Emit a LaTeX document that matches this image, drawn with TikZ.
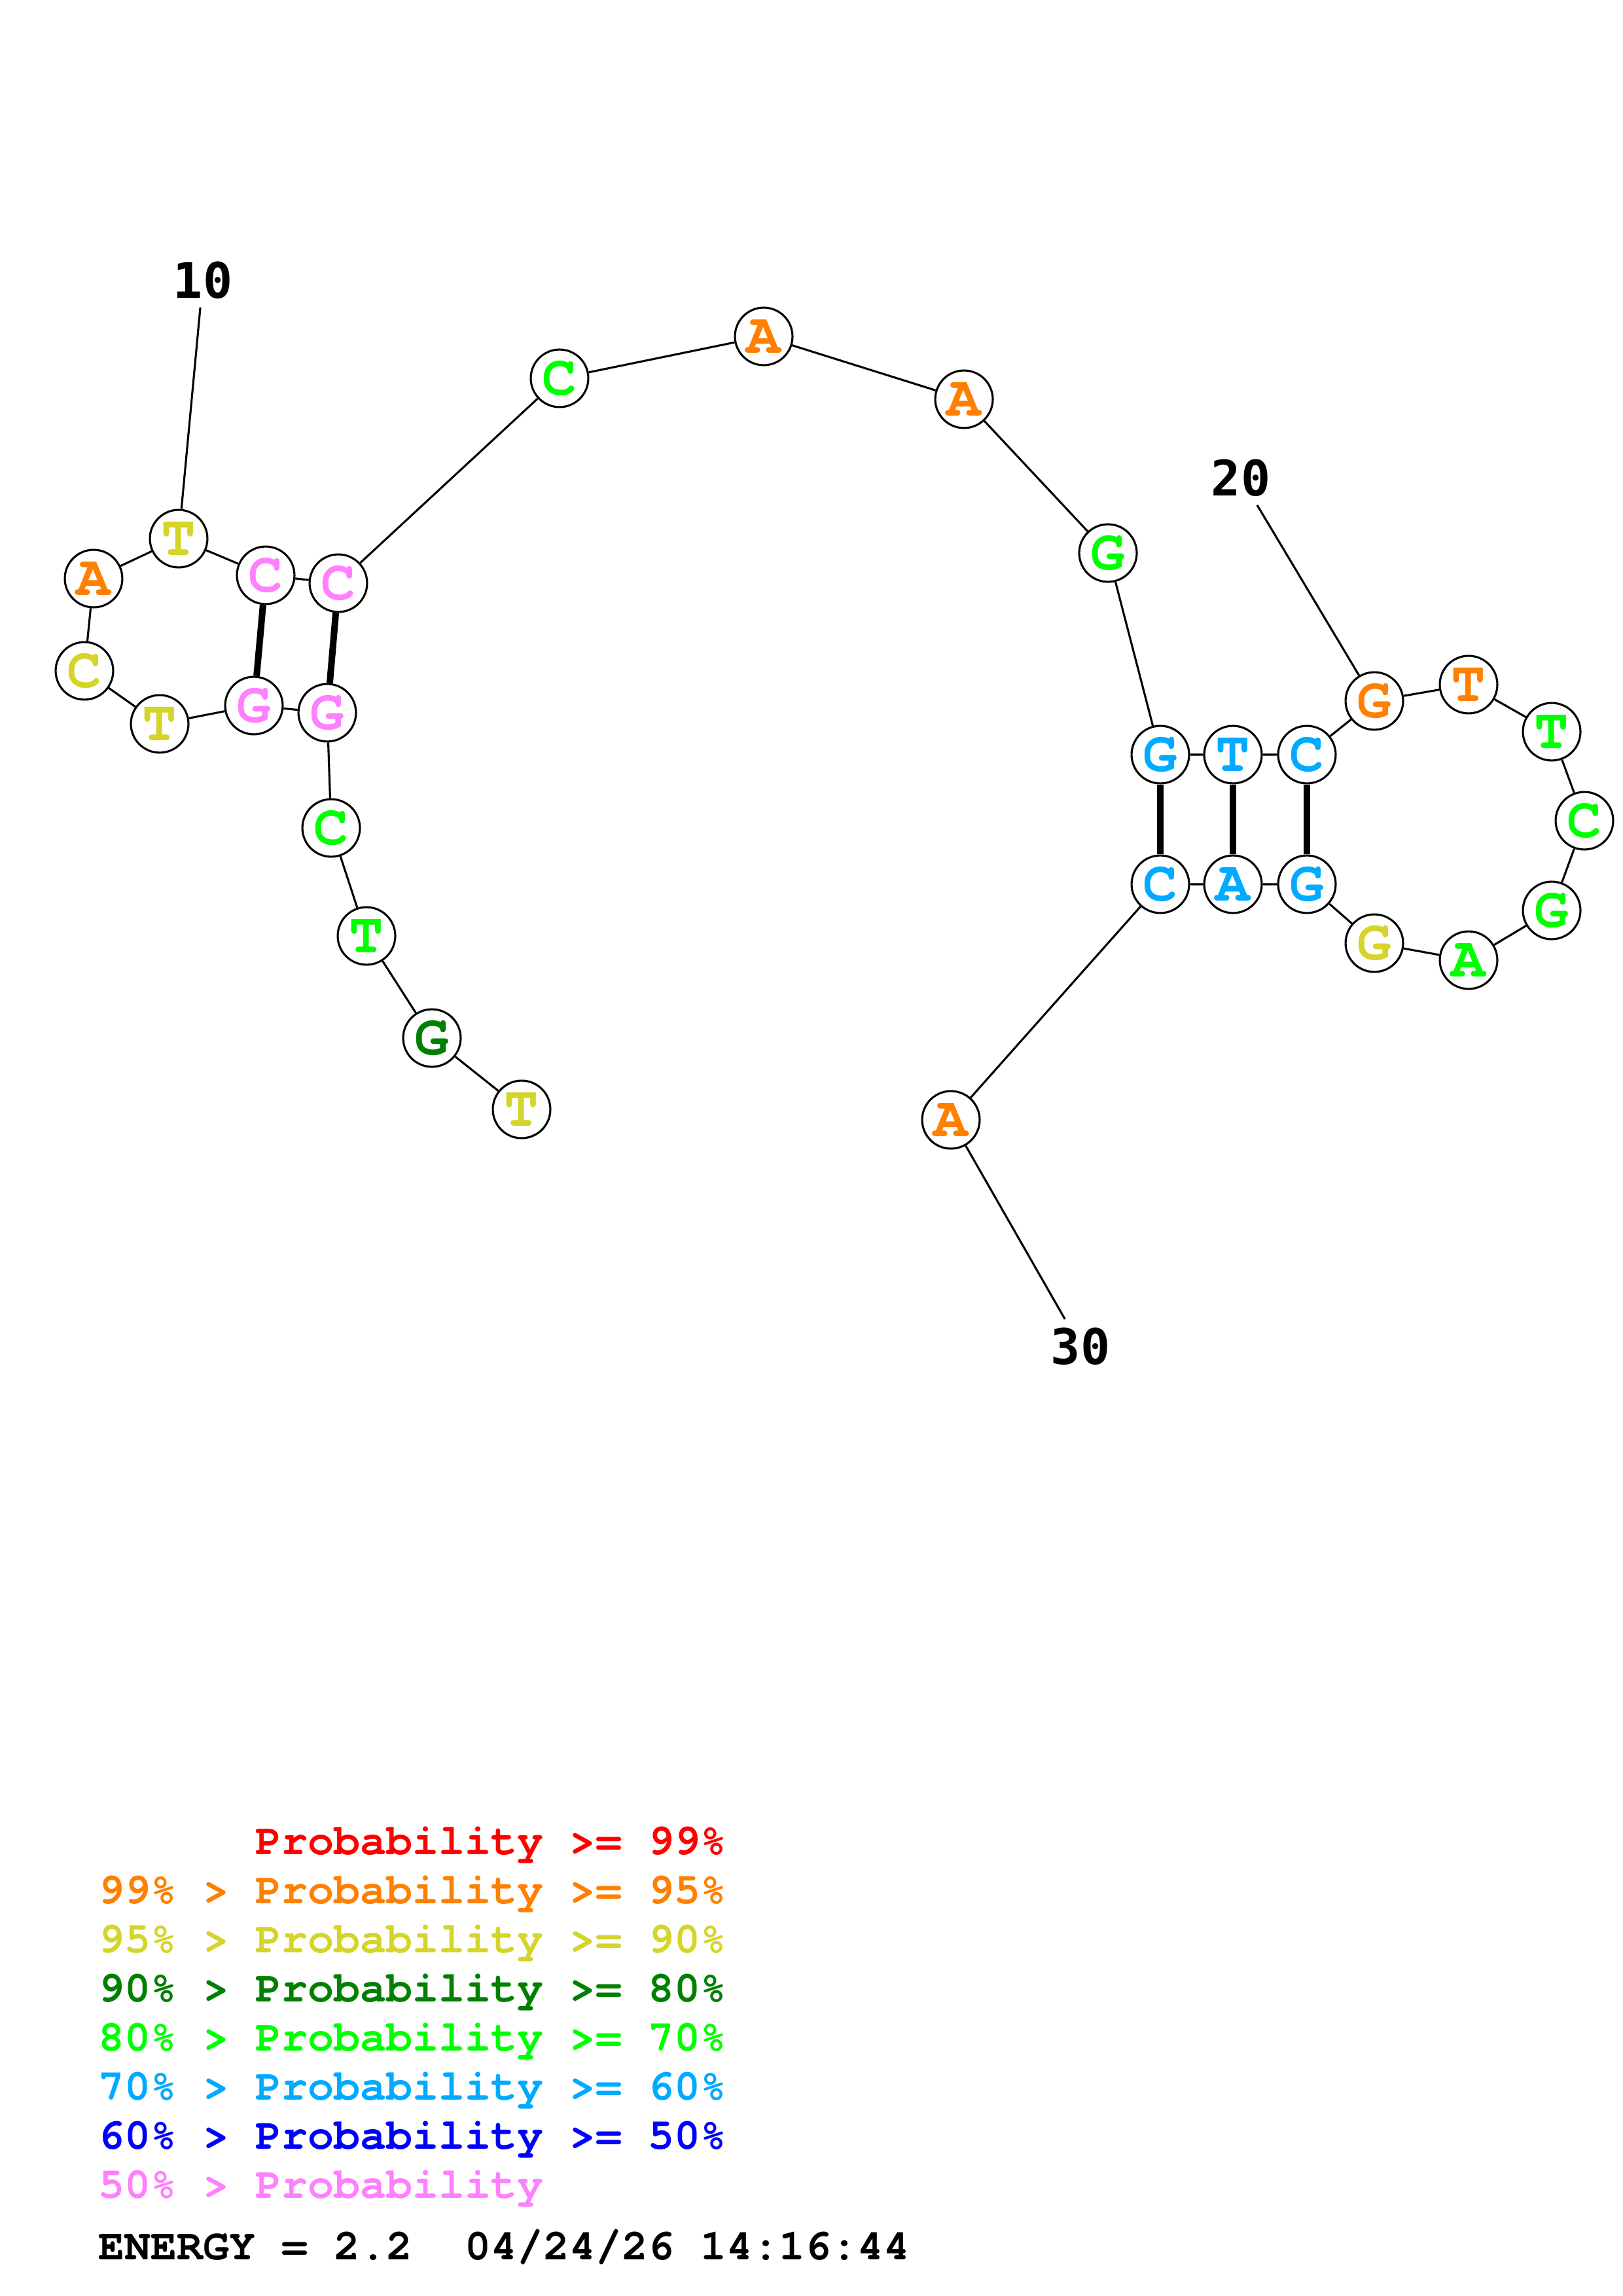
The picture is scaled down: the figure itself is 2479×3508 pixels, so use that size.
\documentclass[tikz,border=0pt]{standalone}
\usepackage{fontspec}
\usetikzlibrary{positioning}
\newfontfamily\numfont{DejaVu Sans Mono}
\newfontfamily\courfont{texgyrecursor-bold.otf}
\newcommand{\ntfont}{\courfont\fontsize{21}{21}\selectfont}
\newcommand{\legfont}{\courfont\fontsize{16}{16}\selectfont}
\definecolor{ntred}{RGB}{255,0,0}
\definecolor{ntorange}{RGB}{255,128,0}
\definecolor{ntyellow}{RGB}{212,212,42}
\definecolor{ntdkgreen}{RGB}{0,128,0}
\definecolor{ntgreen}{RGB}{0,255,0}
\definecolor{ntltblue}{RGB}{0,170,255}
\definecolor{ntblue}{RGB}{0,0,255}
\definecolor{ntpink}{RGB}{255,128,255}
\tikzset{
  nt/.style={circle,draw,fill=white,line width=0.75pt,minimum size=21.1pt,inner sep=0pt,font=\ntfont},
  bb/.style={line width=0.75pt},
  pairline/.style={line width=2.4pt},
  numlab/.style={inner sep=3pt,font=\numfont\bfseries\fontsize{18}{18}\selectfont},
  legend/.style={anchor=base west,inner sep=0pt,font=\legfont}
}
\begin{document}
\begin{tikzpicture}[x=0.24pt,y=-0.24pt]
\useasboundingbox (0,0) rectangle (2479,3508);
% bases
\node[nt,text=ntyellow] (n1) at (797,1695) {T};
\node[nt,text=ntdkgreen] (n2) at (660,1586) {G};
\node[nt,text=ntgreen] (n3) at (560,1430) {T};
\node[nt,text=ntgreen] (n4) at (506,1265) {C};
\node[nt,text=ntpink] (n5) at (500,1089) {G};
\node[nt,text=ntpink] (n6) at (388,1078) {G};
\node[nt,text=ntyellow] (n7) at (244,1106) {T};
\node[nt,text=ntyellow] (n8) at (129,1025) {C};
\node[nt,text=ntorange] (n9) at (143,884) {A};
\node[nt,text=ntyellow] (n10) at (273,823) {T};
\node[nt,text=ntpink] (n11) at (406,879) {C};
\node[nt,text=ntpink] (n12) at (517,891) {C};
\node[nt,text=ntgreen] (n13) at (855,578) {C};
\node[nt,text=ntorange] (n14) at (1167,514) {A};
\node[nt,text=ntorange] (n15) at (1473,610) {A};
\node[nt,text=ntgreen] (n16) at (1693,845) {G};
\node[nt,text=ntltblue] (n17) at (1773,1153) {G};
\node[nt,text=ntltblue] (n18) at (1884,1153) {T};
\node[nt,text=ntltblue] (n19) at (1997,1153) {C};
\node[nt,text=ntorange] (n20) at (2100,1071) {G};
\node[nt,text=ntorange] (n21) at (2244,1046) {T};
\node[nt,text=ntgreen] (n22) at (2371,1118) {T};
\node[nt,text=ntgreen] (n23) at (2421,1254) {C};
\node[nt,text=ntgreen] (n24) at (2371,1391) {G};
\node[nt,text=ntgreen] (n25) at (2244,1467) {A};
\node[nt,text=ntyellow] (n26) at (2100,1441) {G};
\node[nt,text=ntltblue] (n27) at (1997,1351) {G};
\node[nt,text=ntltblue] (n28) at (1884,1351) {A};
\node[nt,text=ntltblue] (n29) at (1773,1351) {C};
\node[nt,text=ntorange] (n30) at (1453,1711) {A};
% backbone
\draw[bb] (n1) -- (n2) -- (n3) -- (n4) -- (n5) -- (n6) -- (n7) -- (n8) -- (n9) -- (n10)
  -- (n11) -- (n12) -- (n13) -- (n14) -- (n15) -- (n16) -- (n17) -- (n18) -- (n19) -- (n20)
  -- (n21) -- (n22) -- (n23) -- (n24) -- (n25) -- (n26) -- (n27) -- (n28) -- (n29) -- (n30);
% pairs
\draw[pairline] (n5) -- (n12);
\draw[pairline] (n6) -- (n11);
\draw[pairline] (n17) -- (n29);
\draw[pairline] (n18) -- (n28);
\draw[pairline] (n19) -- (n27);
% numbering
\node[numlab] (lab10) at (310,428) {10};
\node[numlab] (lab20) at (1896,730) {20};
\node[numlab] (lab30) at (1651,2057) {30};
\draw[bb] (lab10) -- (n10);
\draw[bb] (lab20) -- (n20);
\draw[bb] (lab30) -- (n30);
% legend
\node[legend,text=ntred] (leg1) at (390,2833) {Probability >= 99\%};
\node[legend,text=ntorange] (leg2) at (150,2908) {99\% > Probability >= 95\%};
\node[legend,text=ntyellow] (leg3) at (150,2983) {95\% > Probability >= 90\%};
\node[legend,text=ntdkgreen] (leg4) at (150,3058) {90\% > Probability >= 80\%};
\node[legend,text=ntgreen] (leg5) at (150,3133) {80\% > Probability >= 70\%};
\node[legend,text=ntltblue] (leg6) at (150,3208) {70\% > Probability >= 60\%};
\node[legend,text=ntblue] (leg7) at (150,3283) {60\% > Probability >= 50\%};
\node[legend,text=ntpink] (leg8) at (150,3358) {50\% > Probability};
\node[legend] (energy) at (150,3452) {ENERGY = 2.2\ \ 04/24/26 14:16:44};
\end{tikzpicture}
\end{document}
